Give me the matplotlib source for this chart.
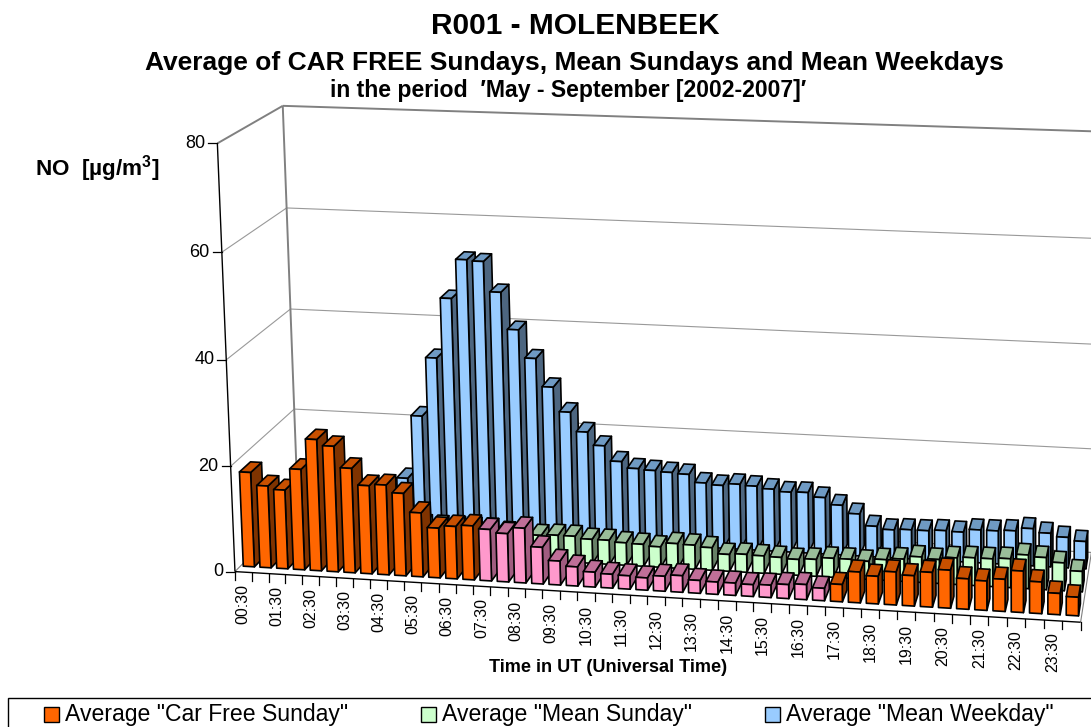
import numpy as np
import matplotlib
matplotlib.use("Agg")
import matplotlib.pyplot as plt
from matplotlib.patches import Polygon, Rectangle

plt.rcParams['font.family'] = ['Liberation Sans', 'DejaVu Sans']
plt.rcParams['mathtext.fontset'] = 'custom'
plt.rcParams['mathtext.bf'] = 'Liberation Sans:bold'
plt.rcParams['mathtext.rm'] = 'Liberation Sans'

# ---- data ----
tick_labels = ["00:30", "01:30", "02:30", "03:30", "04:30", "05:30", "06:30", "07:30",
               "08:30", "09:30", "10:30", "11:30", "12:30", "13:30", "14:30", "15:30",
               "16:30", "17:30", "18:30", "19:30", "20:30", "21:30", "22:30", "23:30"]
car_free_sunday = [18.0, 15.6, 15.0, 19.1, 24.9, 23.8, 19.8, 16.7, 17.0, 15.6, 12.1, 9.4,
                   9.9, 10.2, 9.7, 9.1, 10.3, 6.9, 4.5, 3.6, 2.8, 2.6, 2.5, 2.3,
                   2.8, 3.1, 2.4, 2.3, 2.3, 2.2, 2.3, 2.6, 2.8, 2.3, 3.2, 5.7,
                   5.1, 6.1, 5.6, 6.4, 7.0, 5.6, 5.4, 5.9, 7.6, 5.8, 3.9, 3.4]
mean_sunday = [6.0, 5.5, 5.0, 5.0, 5.0, 5.0, 5.5, 5.5, 5.5, 5.5, 5.5, 5.5,
               5.5, 5.5, 5.0, 5.0, 4.8, 5.0, 5.0, 4.6, 4.6, 4.3, 4.2, 3.9,
               4.7, 4.6, 4.3, 3.2, 3.4, 3.3, 3.2, 3.0, 3.2, 3.6, 3.6, 3.4,
               3.9, 4.2, 4.8, 4.5, 5.0, 5.2, 5.2, 5.4, 6.3, 6.0, 5.2, 3.8]
mean_weekday = [7.0, 6.0, 5.0, 5.0, 6.0, 6.0, 7.0, 10.3, 22.7, 34.2, 45.9, 53.5,
                53.3, 47.5, 40.4, 35.0, 29.6, 24.9, 21.2, 18.7, 15.8, 14.6, 14.4, 14.2,
                14.0, 12.5, 12.2, 12.6, 12.4, 12.0, 11.6, 11.7, 10.9, 9.6, 8.1, 5.9,
                5.4, 5.6, 5.6, 5.8, 5.7, 6.3, 6.3, 6.5, 7.1, 6.4, 5.8, 5.2]
car_free_hours = range(14, 34)   # bars shown in pink
y_ticks = [0, 20, 40, 60, 80]

series_names = ['Average "Car Free Sunday"', 'Average "Mean Sunday"', 'Average "Mean Weekday"']

ORANGE = ('#FF6600', '#C85000', '#7F3300')
PINK = ('#FF99CC', '#BF6F98', '#A05C80')
GREEN = ('#CCFFCC', '#99BD99', '#668066')
BLUE = ('#99CCFF', '#6F9AC3', '#4D6680')

# ---- projection of the 3-D box (category, value, depth) to the picture ----
N = len(car_free_sunday)
calib = [
    ((0, 0, 0), (235, 571)), ((0, 20, 0), (231, 467.5)), ((0, 40, 0), (226.5, 361.5)),
    ((0, 60, 0), (222, 252.5)), ((0, 80, 0), (217, 142)),
    ((0, 20, 1), (294, 409.5)), ((0, 40, 1), (291, 310)), ((0, 60, 1), (287, 208)),
    ((0, 80, 1), (283, 105)), ((0, 0, 1), (297, 507)),
    ((N, 0, 1), (1092, 552)), ((N, 20, 1), (1092, 449)), ((N, 40, 1), (1092, 345)),
    ((N, 60, 1), (1092, 239)), ((N, 80, 1), (1092, 130.5)),
    ((N, 0, 0), (1081, 622)), ((7, 0, 0), (352.7, 578)), ((33, 0, 0), (806.7, 605.5)),
]
A = []
for (X, Y, Z), (u, v) in calib:
    X2, Y2, Z2 = X / N, Y / 80, Z
    A.append([X2, Y2, Z2, 1, 0, 0, 0, 0, -u * X2, -u * Y2, -u * Z2, -u])
    A.append([0, 0, 0, 0, X2, Y2, Z2, 1, -v * X2, -v * Y2, -v * Z2, -v])
H = np.linalg.svd(np.array(A, float))[2][-1].reshape(3, 4)


def proj(x, y, z):
    p = H @ np.array([x / N, y / 80, z, 1.0])
    return p[0] / p[2], p[1] / p[2]


fig = plt.figure(figsize=(10.91, 7.27), dpi=100)
ax = fig.add_axes([0, 0, 1, 1])
ax.set_xlim(0, 1091)
ax.set_ylim(727, 0)
ax.axis('off')


def line(a, b, color, lw, z=1):
    pa, pb = proj(*a), proj(*b)
    ax.plot([pa[0], pb[0]], [pa[1], pb[1]], color=color, lw=lw, zorder=z, solid_capstyle='butt')


# walls and gridlines
for v in y_ticks:
    heavy = v == 80
    if v:
        line((0, v, 0), (0, v, 1), '#808080' if heavy else '#999999', 1.4 if heavy else 0.8)
        line((0, v, 1), (N, v, 1), '#808080' if heavy else '#999999', 1.4 if heavy else 0.8)
line((0, 0, 1), (0, 80, 1), '#808080', 1.4)
line((0, 0, 0), (0, 0, 1), '#808080', 0.8)
line((N, 0, 0), (N, 0, 1), '#808080', 0.8)
line((0, 0, 1), (N, 0, 1), '#808080', 0.8)


def bar(t, v, z0, z1, cols, zo):
    x0, x1 = t + 1 / 6, t + 5 / 6
    pt = lambda x, y, z: proj(x, y, z)
    top = [pt(x0, v, z0), pt(x1, v, z0), pt(x1, v, z1), pt(x0, v, z1)]
    side = [pt(x1, 0, z0), pt(x1, 0, z1), pt(x1, v, z1), pt(x1, v, z0)]
    front = [pt(x0, 0, z0), pt(x1, 0, z0), pt(x1, v, z0), pt(x0, v, z0)]
    for poly, col in ((side, cols[2]), (top, cols[1]), (front, cols[0])):
        ax.add_patch(Polygon(poly, closed=True, facecolor=col, edgecolor='black',
                             lw=1.2, joinstyle='round', zorder=zo))


zo = 5
for t, v in enumerate(mean_weekday):
    bar(t, v, 0.75, 0.917, BLUE, zo); zo += 1
for t, v in enumerate(mean_sunday):
    bar(t, v, 0.417, 0.583, GREEN, zo); zo += 1
for t, v in enumerate(car_free_sunday):
    bar(t, v, 0.083, 0.25, PINK if t in car_free_hours else ORANGE, zo); zo += 1

# axes
line((0, 0, 0), (0, 80, 0), 'black', 1.0, 400)
line((0, 0, 0), (N, 0, 0), 'black', 1.0, 400)
for v in y_ticks:
    u, w = proj(0, v, 0)
    ax.plot([u - 9, u], [w, w], color='black', lw=0.9, zorder=400)
    ax.text(u - 12, w, str(v), ha='right', va='center', fontsize=13, color='black')
for t in range(N + 1):
    u, w = proj(t, 0, 0)
    ax.plot([u, u], [w, w + 8], color='black', lw=0.9, zorder=400)
for i, lab in enumerate(tick_labels):
    u, w = proj(2 * i + 0.5, 0, 0)
    ax.text(u, w + 12, lab, rotation=90, ha='center', va='top', fontsize=11.5, color='black')

# titles
ax.text(575, 26, 'R001 - MOLENBEEK', ha='center', va='center', fontsize=21.5, fontweight='bold')
ax.text(574, 63, 'Average of CAR FREE Sundays, Mean Sundays and Mean Weekdays',
        ha='center', va='center', fontsize=19, fontweight='bold')
ax.text(568, 91, 'in the period  \u2032May - September [2002-2007]\u2032',
        ha='center', va='center', fontsize=16.6, fontweight='bold')
ax.text(608, 667, 'Time in UT (Universal Time)', ha='center', va='center',
        fontsize=13.1, fontweight='bold')
ax.text(35, 169, r'NO  [µg/m$\mathbf{^{3}}$]', ha='left', va='center',
        fontsize=16.2, fontweight='bold')

# legend
ax.add_patch(Rectangle((8, 698), 1120, 60, facecolor='white', edgecolor='black', lw=1.0,
                       zorder=500, clip_on=True))
for x0, name, col in zip((44, 421, 765), series_names, (ORANGE[0], GREEN[0], BLUE[0])):
    ax.add_patch(Rectangle((x0, 707), 15, 15, facecolor=col, edgecolor='black', lw=1.0, zorder=501))
    ax.text(x0 + 21, 714, name, ha='left', va='center', fontsize=16.6, zorder=501)

fig.savefig('out.png', dpi=100, facecolor='white')
